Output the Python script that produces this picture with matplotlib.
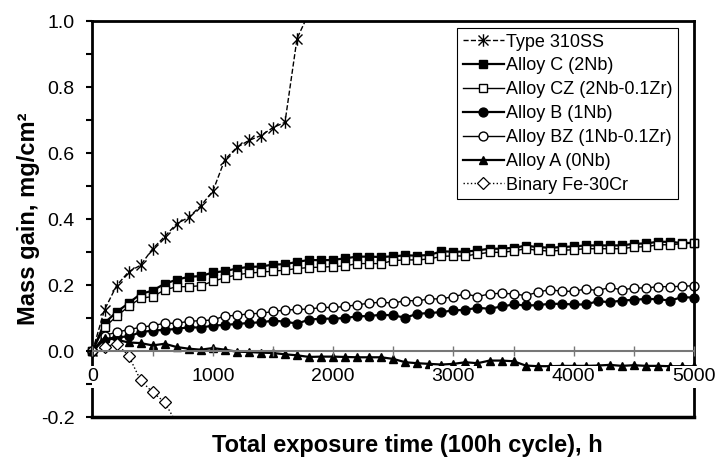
import matplotlib
matplotlib.use("Agg")
import matplotlib.pyplot as plt
from matplotlib.path import Path
from matplotlib.ticker import MultipleLocator, FormatStrFormatter

plt.rcParams["font.family"] = ["Liberation Sans", "DejaVu Sans"]
plt.rcParams["axes.unicode_minus"] = False

# -----------------------------
# Data (100 h cycles)
# -----------------------------
hours = list(range(0, 5001, 100))

hours_310 = [0, 100, 200, 300, 400, 500, 600, 700, 800, 900, 1000,
             1100, 1200, 1300, 1400, 1500, 1600, 1700, 1800]
gain_310 = [0, 0.125, 0.198, 0.24, 0.26, 0.31, 0.347, 0.386, 0.405, 0.44, 0.484,
            0.58, 0.617, 0.638, 0.653, 0.677, 0.693, 0.947, 1.025]

gain_C = [0, 0.085, 0.118, 0.145, 0.173, 0.183, 0.204, 0.216, 0.225, 0.227, 0.238,
          0.242, 0.25, 0.255, 0.256, 0.262, 0.263, 0.27, 0.276, 0.275, 0.276,
          0.281, 0.286, 0.286, 0.285, 0.287, 0.29, 0.289, 0.291, 0.302, 0.301,
          0.301, 0.305, 0.31, 0.31, 0.313, 0.319, 0.315, 0.313, 0.315, 0.317,
          0.32, 0.32, 0.32, 0.32, 0.325, 0.326, 0.331, 0.331, 0.327, 0.328]

gain_CZ = [0, 0.072, 0.105, 0.135, 0.16, 0.165, 0.185, 0.195, 0.195, 0.198, 0.211,
           0.222, 0.231, 0.236, 0.239, 0.242, 0.245, 0.25, 0.253, 0.254, 0.256,
           0.258, 0.265, 0.265, 0.265, 0.274, 0.276, 0.276, 0.279, 0.287, 0.288,
           0.288, 0.294, 0.299, 0.299, 0.303, 0.31, 0.305, 0.303, 0.305, 0.307,
           0.31, 0.31, 0.31, 0.31, 0.315, 0.316, 0.322, 0.322, 0.325, 0.327]

gain_B = [0, 0.035, 0.042, 0.044, 0.057, 0.062, 0.064, 0.067, 0.072, 0.071, 0.077,
          0.079, 0.082, 0.085, 0.087, 0.092, 0.089, 0.083, 0.095, 0.098, 0.098,
          0.1, 0.105, 0.106, 0.11, 0.108, 0.101, 0.113, 0.115, 0.118, 0.123,
          0.125, 0.131, 0.128, 0.135, 0.141, 0.138, 0.139, 0.143, 0.143, 0.141,
          0.141, 0.151, 0.148, 0.153, 0.155, 0.158, 0.157, 0.153, 0.163, 0.162]

gain_BZ = [0, 0.047, 0.057, 0.065, 0.072, 0.077, 0.084, 0.084, 0.09, 0.092, 0.094,
           0.106, 0.108, 0.113, 0.114, 0.12, 0.124, 0.126, 0.127, 0.132, 0.132,
           0.135, 0.14, 0.145, 0.148, 0.145, 0.153, 0.152, 0.158, 0.158, 0.165,
           0.173, 0.165, 0.173, 0.175, 0.173, 0.168, 0.178, 0.186, 0.181, 0.181,
           0.188, 0.183, 0.193, 0.185, 0.191, 0.191, 0.195, 0.195, 0.196, 0.198]

gain_A = [0, 0.04, 0.034, 0.026, 0.024, 0.017, 0.022, 0.012, 0.007, 0.004, 0.009,
          0.004, -0.002, -0.003, -0.005, -0.006, -0.01, -0.013, -0.018, -0.017, -0.017,
          -0.018, -0.019, -0.019, -0.019, -0.024, -0.034, -0.037, -0.039, -0.041, -0.039,
          -0.034, -0.037, -0.029, -0.029, -0.031, -0.044, -0.046, -0.046, -0.045, -0.045,
          -0.045, -0.044, -0.042, -0.045, -0.043, -0.045, -0.045, -0.046, -0.046, -0.046]

hours_bin = [0, 100, 200, 300, 400, 500, 600, 700]
gain_bin = [0, 0.012, 0.022, -0.014, -0.089, -0.125, -0.155, -0.22]

# asterisk marker: X plus vertical bar
star = Path([(0, -1), (0, 1), (-0.8, -0.8), (0.8, 0.8), (-0.8, 0.8), (0.8, -0.8)],
            [Path.MOVETO, Path.LINETO, Path.MOVETO, Path.LINETO, Path.MOVETO, Path.LINETO])

# -----------------------------
# Plot
# -----------------------------
fig = plt.figure(figsize=(7.17, 4.57), dpi=100)
ax = fig.add_axes([0.129, 0.0875, 0.839, 0.8665])

ms = 6.4
ax.plot(hours_310, gain_310, ls="--", lw=1, color="black", marker=star, ms=9,
        mec="black", mew=1, label="Type 310SS")
ax.plot(hours, gain_C, ls="-", lw=1.6, color="black", marker="s", ms=ms,
        mfc="black", mec="black", label="Alloy C (2Nb)", clip_on=False)
ax.plot(hours, gain_CZ, ls="-", lw=1, color="black", marker="s", ms=ms,
        mfc="white", mec="black", mew=1, label="Alloy CZ (2Nb-0.1Zr)", clip_on=False)
ax.plot(hours, gain_B, ls="-", lw=1.6, color="black", marker="o", ms=ms,
        mfc="black", mec="black", label="Alloy B (1Nb)", clip_on=False)
ax.plot(hours, gain_BZ, ls="-", lw=1, color="black", marker="o", ms=ms,
        mfc="white", mec="black", mew=1, label="Alloy BZ (1Nb-0.1Zr)", clip_on=False)
ax.plot(hours, gain_A, ls="-", lw=1.6, color="black", marker="^", ms=ms,
        mfc="black", mec="black", label="Alloy A (0Nb)", clip_on=False)
ax.plot(hours_bin, gain_bin, ls=":", lw=1, color="black", marker="D", ms=6.2,
        mfc="white", mec="black", mew=0.9, label="Binary Fe-30Cr")

ax.set_xlim(0, 5000)
ax.set_ylim(-0.2, 1.0)

# frame + zero axis
ax.set_axisbelow(False)
for side in ["left", "top", "right"]:
    ax.spines[side].set_linewidth(2)
ax.spines["bottom"].set_position(("data", 0))
ax.spines["bottom"].set_color("#777777")
ax.spines["bottom"].set_linewidth(1.5)
ax.axhline(-0.2, color="black", lw=2.5, clip_on=False, zorder=3)

ax.xaxis.set_major_locator(MultipleLocator(1000))
ax.xaxis.set_minor_locator(MultipleLocator(500))
ax.yaxis.set_major_locator(MultipleLocator(0.2))
ax.yaxis.set_minor_locator(MultipleLocator(0.1))
ax.yaxis.set_major_formatter(FormatStrFormatter("%.1f"))

ax.tick_params(axis="x", which="both", direction="inout", length=7, width=1,
               color="#777777", labelsize=14, pad=9)
ax.tick_params(axis="y", which="both", direction="out", length=4, width=1.5,
               labelsize=14, pad=9)

# tick labels sit on a white box, over the markers (as in the original)
for lab in ax.get_xticklabels():
    lab.set_bbox(dict(facecolor="white", edgecolor="none", pad=1.5))

ax.set_xlabel("Total exposure time (100h cycle), h", fontsize=17, fontweight="bold")
ax.xaxis.set_label_coords(0.523, -0.043)
ax.set_ylabel("Mass gain, mg/cm²", fontsize=17, fontweight="bold")
ax.yaxis.set_label_coords(-0.087, 0.5)

leg = ax.legend(loc="upper right", bbox_to_anchor=(0.973, 0.982), fontsize=13,
                frameon=True, fancybox=False, edgecolor="black", framealpha=1,
                handlelength=2.3, handletextpad=0.1, labelspacing=0.38,
                borderpad=0.3, borderaxespad=0)
leg.get_frame().set_linewidth(0.8)

fig.savefig("out.png", dpi=100)
